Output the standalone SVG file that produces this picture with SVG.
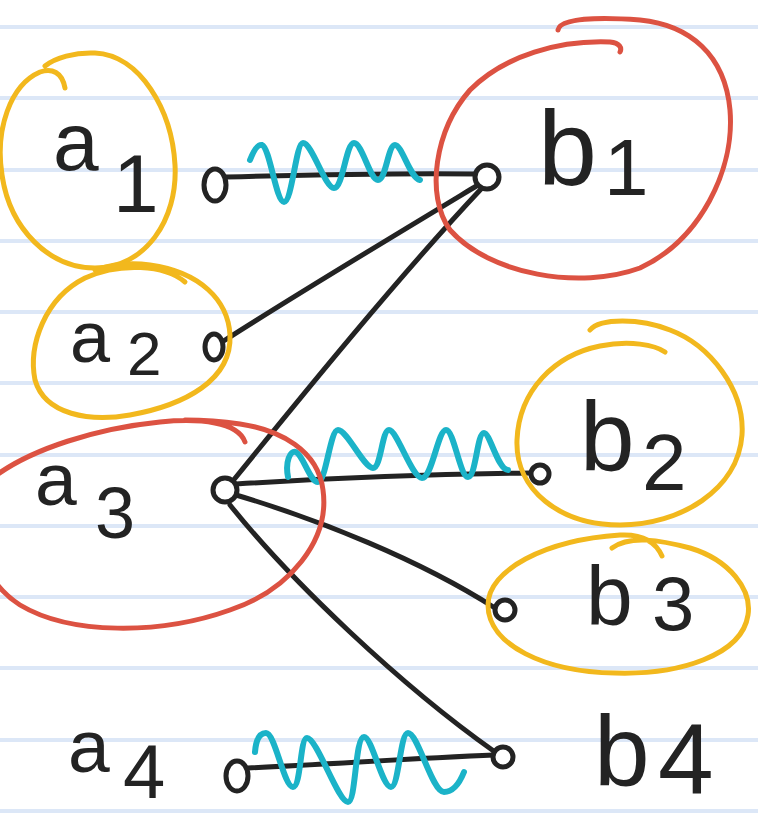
<svg xmlns="http://www.w3.org/2000/svg" width="758" height="817" viewBox="0 0 758 817">
<style>
.rule{stroke:#dce7f7;stroke-width:4}
.wire{fill:none;stroke:#232323;stroke-width:5;stroke-linecap:round;stroke-linejoin:round}
.spring{fill:none;stroke:#1bb3c8;stroke-width:6;stroke-linecap:round;stroke-linejoin:round}
.dot{fill:#fff;stroke:#232323;stroke-width:5}
.lbl{font-family:"Liberation Sans","DejaVu Sans",sans-serif;fill:#232323}
.yel{fill:none;stroke:#f2b81d;stroke-width:5;stroke-linecap:round;stroke-linejoin:round}
.red{fill:none;stroke:#dc5242;stroke-width:5;stroke-linecap:round;stroke-linejoin:round}
</style>
<rect width="758" height="817" fill="#fff"/>
<g id="ruling">
<line class="rule" x1="0" y1="27" x2="758" y2="27"/>
<line class="rule" x1="0" y1="98" x2="758" y2="98"/>
<line class="rule" x1="0" y1="170" x2="758" y2="170"/>
<line class="rule" x1="0" y1="241" x2="758" y2="241"/>
<line class="rule" x1="0" y1="312" x2="758" y2="312"/>
<line class="rule" x1="0" y1="383" x2="758" y2="383"/>
<line class="rule" x1="0" y1="455" x2="758" y2="455"/>
<line class="rule" x1="0" y1="526" x2="758" y2="526"/>
<line class="rule" x1="0" y1="597" x2="758" y2="597"/>
<line class="rule" x1="0" y1="668" x2="758" y2="668"/>
<line class="rule" x1="0" y1="740" x2="758" y2="740"/>
<line class="rule" x1="0" y1="811" x2="758" y2="811"/>
</g>
<g id="connectors">
<path class="wire" d="M226,177 C300,175 400,173 478,174"/>
<path class="wire" d="M222,342 C300,292 400,232 478,185"/>
<path class="wire" d="M232,482 C300,398 400,275 482,188"/>
<path class="wire" d="M236,484 C330,478 440,474 530,473"/>
<path class="wire" d="M236,495 C320,520 420,560 495,608"/>
<path class="wire" d="M230,505 C290,580 400,685 495,752"/>
<path class="wire" d="M248,768 C330,764 420,758 494,755"/>
<path class="spring" d="M250,160 C254,150 258,144 262,145 C270,148 276,202 284,202 C292,202 296,143 303,143 C312,143 325,188 334,188 C343,188 346,143 354,143 C362,143 370,180 378,180 C386,180 388,145 395,145 C402,145 410,178 420,180"/>
<path class="spring" d="M288,477 C285,462 290,450 296,452 C303,455 310,482 318,482 C326,482 330,430 338,430 C347,430 364,468 373,468 C381,468 382,430 389,430 C397,430 412,478 422,478 C432,478 438,430 446,430 C454,430 460,477 468,477 C476,477 477,433 484,433 C490,433 498,470 508,470"/>
<path class="spring" d="M255,752 C256,740 260,733 266,733 C275,733 284,787 293,787 C301,787 300,738 307,738 C317,738 338,802 348,802 C356,802 355,737 364,737 C372,737 382,787 391,787 C399,787 400,733 408,733 C418,733 432,792 444,792 C454,792 460,782 464,772"/>
</g>
<g id="a1">
<ellipse class="dot" cx="215" cy="185" rx="11" ry="16"/>
<text class="lbl" x="53" y="170" font-size="82">a<tspan x="113" y="212">1</tspan></text>
</g>
<g id="a2">
<ellipse class="dot" cx="214" cy="347" rx="9" ry="13"/>
<text class="lbl" x="70" y="362" font-size="72">a<tspan x="127" y="375" font-size="62">2</tspan></text>
</g>
<g id="a3">
<circle class="dot" cx="225" cy="490" r="12"/>
<text class="lbl" x="35" y="505" font-size="75">a<tspan x="95" y="538" font-size="72">3</tspan></text>
</g>
<g id="a4">
<ellipse class="dot" cx="237" cy="776" rx="11" ry="15"/>
<text class="lbl" x="68" y="772" font-size="75">a<tspan x="123" y="798" font-size="76">4</tspan></text>
</g>
<g id="b1">
<circle class="dot" cx="487" cy="177" r="12"/>
<text class="lbl" x="538" y="185" font-size="106">b<tspan x="604" y="195" font-size="80">1</tspan></text>
</g>
<g id="b2">
<circle class="dot" cx="540" cy="474" r="9"/>
<text class="lbl" x="580" y="470" font-size="98">b<tspan x="642" y="490" font-size="80">2</tspan></text>
</g>
<g id="b3">
<circle class="dot" cx="505" cy="610" r="10"/>
<text class="lbl" x="586" y="625" font-size="84">b<tspan x="652" y="630" font-size="76">3</tspan></text>
</g>
<g id="b4">
<circle class="dot" cx="503" cy="757" r="10"/>
<text class="lbl" x="594" y="786" font-size="100">b<tspan x="658" y="794" font-size="100">4</tspan></text>
</g>
<g id="highlights">
<path class="yel" d="M65,88 C62,72 52,68 40,72 C10,85 -5,130 2,175 C10,230 50,268 95,268 C145,268 178,220 175,165 C172,110 140,55 95,53 C75,52 55,58 45,66"/>
<path class="yel" d="M185,282 C165,265 120,262 85,278 C45,298 28,345 35,380 C45,415 90,422 130,415 C185,405 232,380 230,335 C228,300 200,272 150,265 C130,262 110,265 95,270"/>
<path class="red" d="M245,442 C238,422 200,418 160,422 C100,428 30,448 -10,480 C-40,520 -20,580 20,605 C70,635 160,635 230,610 C290,590 330,540 323,490 C318,450 280,430 240,424 C220,421 200,420 185,420"/>
<path class="red" d="M558,30 C560,18 600,17 640,20 C690,25 725,55 730,110 C735,170 700,240 640,268 C580,290 490,275 450,230 C425,195 435,130 470,90 C505,55 560,40 610,42 C620,43 622,48 620,52"/>
<path class="yel" d="M590,330 C600,318 640,318 670,330 C710,345 745,390 742,435 C738,490 680,525 620,525 C560,525 515,490 517,440 C519,390 555,355 600,346 C630,340 655,345 665,352"/>
<path class="yel" d="M612,548 C630,535 660,540 690,548 C730,560 752,590 748,615 C742,655 680,675 615,673 C545,672 488,645 488,605 C488,570 545,540 620,535 C640,534 655,540 662,556"/>
</g>
</svg>
